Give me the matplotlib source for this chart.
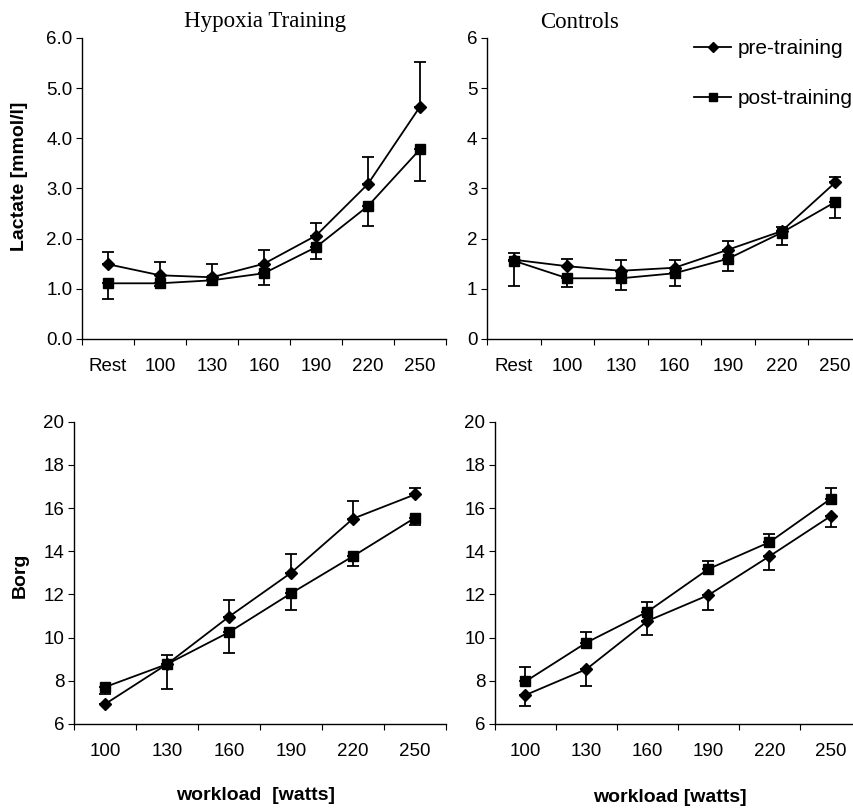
import numpy as np
import matplotlib
matplotlib.use("Agg")
import matplotlib.pyplot as plt
from matplotlib.lines import Line2D

plt.rcParams['font.family'] = ['Liberation Sans', 'DejaVu Sans']

# workload categories
lactate_labels = ['Rest', '100', '130', '160', '190', '220', '250']
borg_labels = ['100', '130', '160', '190', '220', '250']

# lactate, hypoxia training group
hyp_lac_pre = [1.49, 1.27, 1.23, 1.50, 2.06, 3.09, 4.63]
hyp_lac_pre_err = [0.24, 0.26, 0.26, 0.27, 0.25, 0.54, 0.90]
hyp_lac_post = [1.11, 1.11, 1.17, 1.31, 1.83, 2.65, 3.78]
hyp_lac_post_err = [0.32, 0.06, 0.09, 0.24, 0.23, 0.40, 0.63]

# lactate, controls
con_lac_pre = [1.58, 1.45, 1.36, 1.42, 1.78, 2.15, 3.12]
con_lac_pre_err = [0.14, 0.15, 0.22, 0.16, 0.17, 0.08, 0.11]
con_lac_post = [1.56, 1.21, 1.21, 1.31, 1.60, 2.12, 2.73]
con_lac_post_err = [0.50, 0.17, 0.23, 0.25, 0.24, 0.24, 0.31]

# Borg, hypoxia training group
hyp_borg_pre = [6.92, 8.77, 10.97, 13.0, 15.51, 16.63]
hyp_borg_pre_err = [0.0, 0.41, 0.75, 0.86, 0.81, 0.29]
hyp_borg_post = [7.71, 8.77, 10.25, 12.05, 13.77, 15.55]
hyp_borg_post_err = [0.31, 1.15, 0.97, 0.77, 0.46, 0.32]

# Borg, controls
con_borg_pre = [7.34, 8.54, 10.77, 11.97, 13.77, 15.62]
con_borg_pre_err = [0.49, 0.80, 0.66, 0.71, 0.62, 0.50]
con_borg_post = [7.97, 9.77, 11.20, 13.18, 14.42, 16.42]
con_borg_post_err = [0.65, 0.49, 0.46, 0.36, 0.38, 0.53]

fig = plt.figure(figsize=(8.54, 8.10), dpi=100)

ax1 = fig.add_axes([0.0960, 0.5815, 0.4262, 0.3716])
ax2 = fig.add_axes([0.5703, 0.5815, 0.4391, 0.3716])
ax3 = fig.add_axes([0.0867, 0.1062, 0.4356, 0.3732])
ax4 = fig.add_axes([0.5796, 0.1062, 0.4286, 0.3732])

FS = 13.5


def panel(ax, labels, pre, pre_err, post, post_err, pre_up, ylim, yticks, yfmt):
    x = np.arange(len(labels)) + 0.5
    z = np.zeros(len(labels))
    if pre_up:
        pe = [z, pre_err]
        qe = [post_err, z]
    else:
        pe = [pre_err, z]
        qe = [z, post_err]
    ax.errorbar(x, pre, yerr=pe, color='black', marker='D', markersize=6.5,
                lw=1.3, capsize=4, capthick=1.3, elinewidth=1.3)
    ax.errorbar(x, post, yerr=qe, color='black', marker='s', markersize=7,
                lw=1.3, capsize=4, capthick=1.3, elinewidth=1.3)
    ax.set_xlim(0, len(labels))
    ax.set_ylim(*ylim)
    ax.set_xticks(np.arange(len(labels) + 1))
    ax.set_xticklabels([])
    ax.set_xticks(x, minor=True)
    ax.set_xticklabels(labels, minor=True, fontsize=FS)
    ax.tick_params(axis='x', which='minor', length=0, pad=14)
    ax.tick_params(axis='x', which='major', length=4, direction='out')
    ax.set_yticks(yticks)
    ax.set_yticklabels([yfmt.format(v) for v in yticks], fontsize=FS)
    ax.tick_params(axis='y', length=4, direction='out', pad=3)
    for s in ['top', 'right']:
        ax.spines[s].set_visible(False)
    for s in ['left', 'bottom']:
        ax.spines[s].set_linewidth(1.0)


panel(ax1, lactate_labels, hyp_lac_pre, hyp_lac_pre_err, hyp_lac_post,
      hyp_lac_post_err, True, (0, 6), np.arange(0, 7), '{:.1f}')
panel(ax2, lactate_labels, con_lac_pre, con_lac_pre_err, con_lac_post,
      con_lac_post_err, True, (0, 6), np.arange(0, 7), '{:d}')
panel(ax3, borg_labels, hyp_borg_pre, hyp_borg_pre_err, hyp_borg_post,
      hyp_borg_post_err, True, (6, 20), np.arange(6, 21, 2), '{:d}')
panel(ax4, borg_labels, con_borg_pre, con_borg_pre_err, con_borg_post,
      con_borg_post_err, False, (6, 20), np.arange(6, 21, 2), '{:d}')

fig.text(265 / 854, 1 - 22 / 810, 'Hypoxia Training', ha='center', va='center',
         fontsize=16.5, family='Liberation Serif')
fig.text(580 / 854, 1 - 22 / 810, 'Controls', ha='center', va='center',
         fontsize=16.5, family='Liberation Serif')

fig.text(20 / 854, 1 - 176 / 810, 'Lactate [mmol/l]', rotation=90, ha='center',
         va='center', fontsize=14, fontweight='bold')
fig.text(20 / 854, 1 - 575 / 810, 'Borg', rotation=90, ha='center',
         va='center', fontsize=14, fontweight='bold')
fig.text(256 / 854, 1 - 796 / 810, 'workload  [watts]', ha='center',
         va='center', fontsize=14, fontweight='bold')
fig.text(670 / 854, 1 - 797 / 810, 'workload [watts]', ha='center',
         va='center', fontsize=14, fontweight='bold')

handles = [Line2D([], [], color='black', lw=1.3, marker='D', markersize=5.5),
           Line2D([], [], color='black', lw=1.3, marker='s', markersize=6)]
fig.legend(handles, ['pre-training', 'post-training'], loc='upper left',
           bbox_to_anchor=(694 / 854, 1 - 39 / 810),
           frameon=False, fontsize=15, handlelength=1.8, labelspacing=1.5,
           handletextpad=0.3, borderaxespad=0, borderpad=0)

fig.savefig('out.png', dpi=100)
